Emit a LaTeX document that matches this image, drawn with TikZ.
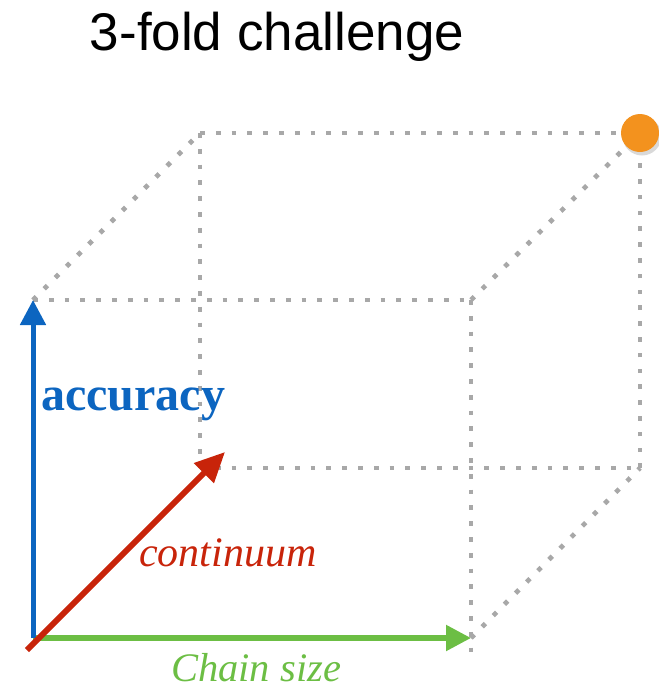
\documentclass[tikz,border=0pt]{standalone}
\usepackage{fontspec}
\setmainfont{Liberation Serif}
\newfontfamily\titlefont{Liberation Sans}
\usetikzlibrary{arrows.meta}
\definecolor{axblue}{RGB}{12,101,192}
\definecolor{axred}{RGB}{200,36,10}
\definecolor{axgreen}{RGB}{108,190,68}
\definecolor{dotorange}{RGB}{243,146,30}
\definecolor{edgegray}{RGB}{168,168,168}
\tikzset{
  edge/.style={edgegray, line width=4.7pt, dash pattern=on 4.7pt off 11.1pt},
  axis/.style={line width=5pt, -{Triangle[length=25pt,width=25pt]}},
  lbl/.style={inner sep=0pt, anchor=base west}
}
\begin{document}
\begin{tikzpicture}[x=1pt,y=-1pt]
\useasboundingbox (0,0) rectangle (659,689);
% cube corners
\coordinate (O) at (33,638);
\coordinate (A) at (471,638);
\coordinate (Aend) at (471,656);
\coordinate (B) at (471,300);
\coordinate (C) at (33,300);
\coordinate (D) at (200,468);
\coordinate (E) at (640,468);
\coordinate (F) at (640,133);
\coordinate (G) at (200,133);
\coordinate (Rstart) at (27,650);
\coordinate (Rend) at (225,452);
% dotted edges
\draw[edge] (C) -- (B);
\draw[edge] (B) -- (Aend);
\draw[edge] (A) -- (E);
\draw[edge] (E) -- (F);
\draw[edge] (G) -- (F);
\draw[edge] (G) -- (D);
\draw[edge] (D) -- (E);
\draw[edge] (C) -- (G);
\draw[edge] (B) -- (F);
% axes
\draw[axis, axgreen, line width=5.3pt] (O) -- (A);
\draw[axis, axblue] (O) -- (C);
\draw[axis, axred, line width=5.8pt, -{Triangle[length=30pt,width=27pt]}] (Rstart) -- (Rend);
% corner dot
\fill[black, opacity=0.15] (642,136) circle (19.5pt);
\node[circle, fill=dotorange, minimum size=38pt, inner sep=0pt] (dot) at (F) {};
% labels
\node[lbl, text=axblue, font=\fontsize{48}{50}\selectfont\bfseries] (acc) at (41,410) {accuracy};
\node[lbl, text=axred, font=\fontsize{42}{44}\selectfont\itshape] (cont) at (139,566) {continuum};
\node[lbl, text=axgreen, font=\fontsize{40.5}{42}\selectfont\itshape] (chain) at (171,681) {Chain size};
\node[inner sep=0pt, anchor=base, font=\titlefont\fontsize{53}{55}\selectfont] (title) at (277,50) {3-fold challenge};
\end{tikzpicture}
\end{document}
